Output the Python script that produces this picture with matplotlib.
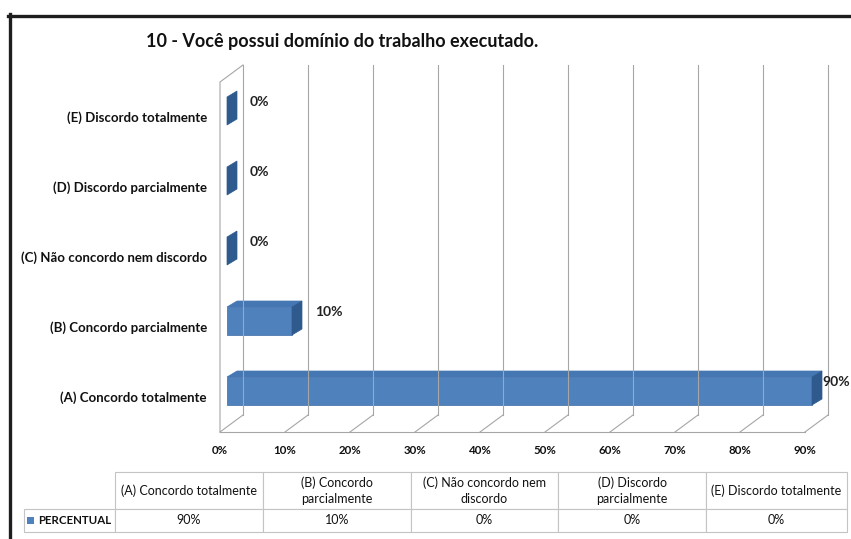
import matplotlib

matplotlib.use("Agg")
import matplotlib.pyplot as plt
from matplotlib.patches import Polygon, Rectangle
from matplotlib.lines import Line2D

# data
categories = [
    "(A) Concordo totalmente",
    "(B) Concordo parcialmente",
    "(C) Não concordo nem discordo",
    "(D) Discordo parcialmente",
    "(E) Discordo totalmente",
]
header_labels = [
    "(A) Concordo totalmente",
    "(B) Concordo\nparcialmente",
    "(C) Não concordo nem\ndiscordo",
    "(D) Discordo\nparcialmente",
    "(E) Discordo totalmente",
]
values = [90, 10, 0, 0, 0]
series_name = "PERCENTUAL"
x_ticks = [0, 10, 20, 30, 40, 50, 60, 70, 80, 90]
title = "10 - Você possui domínio do trabalho executado."

W, H = 851, 539
plt.rcParams["font.family"] = ["Lato", "DejaVu Sans"]

FRONT = "#4f81bd"
TOP = "#4577b3"
SIDE = "#2e5a8e"
GRID = "#a6a6a6"

fig = plt.figure(figsize=(W / 100, H / 100), dpi=100)
fig.patch.set_facecolor("white")

# main axes covers whole figure; data units mapped to pixels
PX_X = 6.5      # px per percent
PX_Y = 70.0     # px per category
X0 = 220        # px of front 0%
Y0 = 391        # px of category A centre
ax = fig.add_axes([0, 0, 1, 1])
ax.set_xlim(-X0 / PX_X, (W - X0) / PX_X)
ax.set_ylim((Y0 - H) / PX_Y, Y0 / PX_Y)
ax.set_axis_off()

DX = 23 / PX_X
DY = 17 / PX_Y
y_floor = (Y0 - 432) / PX_Y
y_top = (Y0 - 65) / PX_Y
xmax = x_ticks[-1]

# back wall gridlines and floor
for t in x_ticks:
    ax.plot([t + DX, t + DX], [y_floor + DY, y_top], color=GRID, lw=0.8)
    ax.plot([t, t + DX], [y_floor, y_floor + DY], color=GRID, lw=0.8)
ax.plot([0, xmax], [y_floor, y_floor], color=GRID, lw=0.8)
# left wall
ax.plot([0, 0, DX], [y_floor, y_top - DY, y_top], color=GRID, lw=0.8)

# bars
BX0 = 7 / PX_X
BH = 0.4
BDX = 10 / PX_X
BDY = 6 / PX_Y
label_max = (822 - X0) / PX_X   # labels are pushed back inside the chart area
for i, v in enumerate(values):
    x0, x1 = BX0, BX0 + v
    yb, yt = i - BH / 2, i + BH / 2
    if v > 0:
        ax.add_patch(Polygon([(x0, yt), (x0 + BDX, yt + BDY), (x1 + BDX, yt + BDY), (x1, yt)],
                             closed=True, facecolor=TOP, edgecolor=TOP, lw=0.5))
        ax.barh(i, v, left=x0, height=BH, color=FRONT, edgecolor="#3d6ca6", lw=0.5)
    ax.add_patch(Polygon([(x1, yb), (x1, yt), (x1 + BDX, yt + BDY), (x1 + BDX, yb + BDY)],
                         closed=True, facecolor=SIDE, edgecolor=SIDE, lw=0.5))
    ax.text(min(x1 + 3.5, label_max), i + 0.13, f"{v}%", fontsize=10, fontweight="bold",
            ha="left", va="center", color="#222222")
    ax.text(-13 / PX_X, i - 0.09, categories[i], fontsize=9.5, fontweight="bold",
            ha="right", va="center", color="#111111")

for t in x_ticks:
    ax.text(t, (Y0 - 450) / PX_Y, f"{t}%", fontsize=8.3, fontweight="bold",
            ha="center", va="center", color="#111111")

fig.text(342 / W, 1 - 41 / H, title, fontsize=13, fontweight="bold",
         ha="center", va="center", color="#111111")

# frame
fig.add_artist(Line2D([8 / W, 1], [1 - 15.5 / H, 1 - 15.5 / H], color="#1e1e1e", lw=2.4))
fig.add_artist(Line2D([9.5 / W, 9.5 / W], [1 - 14 / H, 0], color="#1e1e1e", lw=2.4))

# data table
tl, tr, tt, tb = 24, 847, 472, 532
tax = fig.add_axes([tl / W, 1 - tb / H, (tr - tl) / W, (tb - tt) / H])
tax.set_axis_off()
col_px = [91, 148, 148, 147, 148, 141]
total = sum(col_px)
rows = [[""] + header_labels, [series_name] + [f"{v}%" for v in values]]
tbl = tax.table(cellText=rows, bbox=[0, 0, 1, 1], cellLoc="center")
tbl.auto_set_font_size(False)
for (r, c), cell in tbl.get_celld().items():
    cell.set_edgecolor("#c4c4c4")
    cell.set_linewidth(0.8)
    cell.set_height(37 if r == 0 else 23)
    cell.set_width(col_px[c] / total)
    txt = cell.get_text()
    txt.set_fontsize(9)
    txt.set_color("#111111")
    txt.set_linespacing(1.35)
    if r == 0 and c == 0:
        cell.visible_edges = ""
    if r == 1 and c == 0:
        txt.set_fontweight("bold")
        txt.set_fontsize(8.3)
        txt.set_ha("left")
        cell.PAD = 14 / col_px[0]
tax.add_patch(Rectangle(((27 - tl) / (tr - tl), (tb - 524) / (tb - tt)),
                        7 / (tr - tl), 7 / (tb - tt), transform=tax.transAxes,
                        facecolor=FRONT, edgecolor="none", clip_on=False, zorder=5))

fig.savefig("out.png", dpi=100)
